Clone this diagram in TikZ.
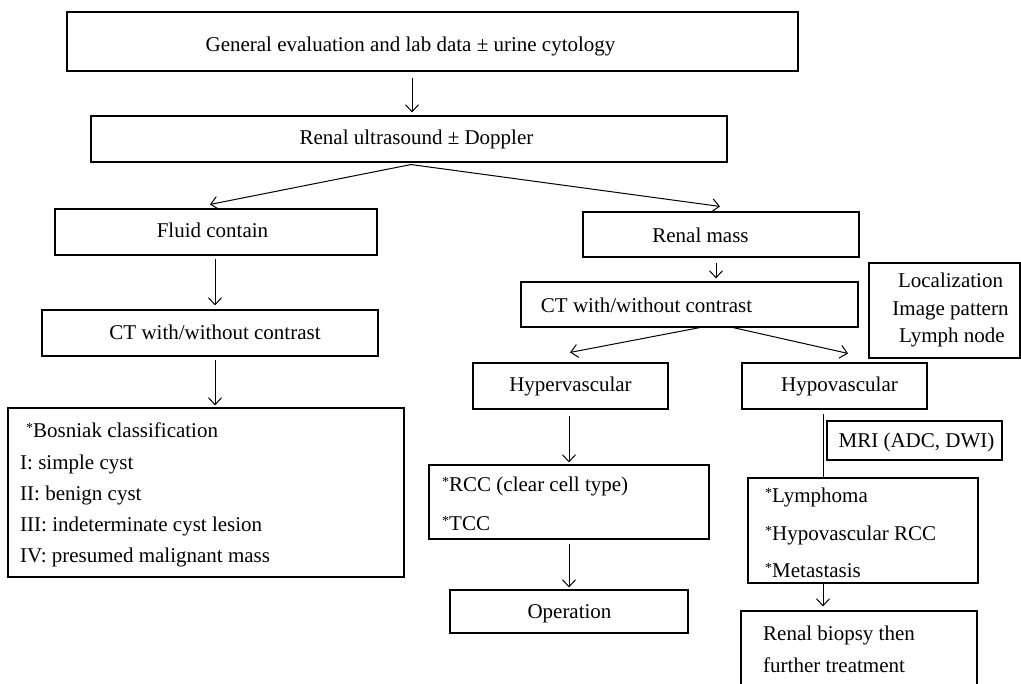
\documentclass[tikz,border=0pt]{standalone}
\usepackage{fontspec}
\setmainfont{Liberation Serif}
\usetikzlibrary{arrows.meta}
\newcommand{\sta}{\raisebox{5pt}{\fontsize{14}{14}\selectfont *}}
\begin{document}
\begin{tikzpicture}[x=1pt,y=-1pt,
  frame/.style={draw,line width=1.1pt,inner sep=0pt,minimum width=#1},
  txt/.style={inner sep=0pt,anchor=base,font=\fontsize{21}{25}\selectfont},
  ltxt/.style={inner sep=0pt,anchor=base west,font=\fontsize{21}{25}\selectfont},
  arr/.style={line width=1pt,-{Straight Barb[length=7pt,width=13pt]}},
  ln/.style={line width=1pt}]
\useasboundingbox (0,0) rectangle (1021,684);
% frames
\node[frame=731pt,minimum height=59pt] (f1) at (432.5,41.5) {};
\node[frame=636pt,minimum height=46pt] (f2) at (409,139) {};
\node[frame=322pt,minimum height=46pt] (f3) at (216,232) {};
\node[frame=336pt,minimum height=46pt] (f4) at (210,333) {};
\node[frame=396pt,minimum height=169pt] (f5) at (206,492.5) {};
\node[frame=276pt,minimum height=45pt] (f6) at (721,234.5) {};
\node[frame=337pt,minimum height=45pt] (f7) at (689.5,304.5) {};
\node[frame=151pt,minimum height=95pt] (f8) at (944.5,310.5) {};
\node[frame=195pt,minimum height=46pt] (f9) at (570.5,386) {};
\node[frame=185pt,minimum height=46pt] (f10) at (834.5,386) {};
\node[frame=175pt,minimum height=39pt] (f11) at (914.5,440.5) {};
\node[frame=280pt,minimum height=74pt] (f12) at (569,502) {};
\node[frame=238pt,minimum height=43pt] (f13) at (569,611.5) {};
\node[frame=230pt,minimum height=105pt] (f14) at (863,530.5) {};
\node[frame=236pt,minimum height=89pt] (f15) at (859,655.5) {};
% texts
\node[txt] (t1) at (410.5,52) {General evaluation and lab data ± urine cytology};
\node[txt] (t2) at (416.5,145) {Renal ultrasound ± Doppler};
\node[txt] (t3) at (212.5,238) {Fluid contain};
\node[txt] (t4) at (215,340) {CT with/without contrast};
\node[txt] (t5) at (700.5,243) {Renal mass};
\node[txt] (t6) at (646.5,313) {CT with/without contrast};
\node[txt] (t7a) at (950.5,288) {Localization};
\node[txt] (t7b) at (950.5,316) {Image pattern};
\node[txt] (t7c) at (952,343) {Lymph node};
\node[txt] (t8) at (570.5,392) {Hypervascular};
\node[txt] (t9) at (839.5,392) {Hypovascular};
\node[txt] (t10) at (916.5,448) {MRI (ADC, DWI)};
\node[ltxt] (t11a) at (442,492) {\sta RCC (clear cell type)};
\node[ltxt] (t11b) at (442,531) {\sta TCC};
\node[txt] (t12) at (569.5,618) {Operation};
\node[ltxt] (t13a) at (26,438) {\sta Bosniak classification};
\node[ltxt] (t13b) at (20,469.5) {I: simple cyst};
\node[ltxt] (t13c) at (20,500.5) {II: benign cyst};
\node[ltxt] (t13d) at (20,532) {III: indeterminate cyst lesion};
\node[ltxt] (t13e) at (20,563) {IV: presumed malignant mass};
\node[ltxt] (t14a) at (765,503) {\sta Lymphoma};
\node[ltxt] (t14b) at (765,540) {\sta Hypovascular RCC};
\node[ltxt] (t14c) at (765,577) {\sta Metastasis};
\node[ltxt] (t15a) at (763,640) {Renal biopsy then};
\node[ltxt] (t15b) at (763,672) {further treatment};
% connectors
\draw[arr] ([xshift=-20.5pt,yshift=-6pt]f1.south) -- ([xshift=3pt,yshift=3pt]f2.north);
\draw[arr] ([xshift=2pt,yshift=-2pt]f2.south) -- ([xshift=-6pt,yshift=4pt]f3.north);
\draw[arr] ([xshift=2pt,yshift=-2pt]f2.south) -- ([xshift=-1pt,yshift=5pt]f6.north);
\draw[arr] ([xshift=-1pt,yshift=-3pt]f3.south) -- ([xshift=5pt,yshift=4pt]f4.north);
\draw[arr] ([xshift=5pt,yshift=-3pt]f4.south) -- ([xshift=9pt,yshift=2pt]f5.north);
\draw[arr] ([xshift=-5pt,yshift=-5pt]f6.south) -- ([xshift=26.5pt,yshift=3pt]f7.north);
\draw[arr] ([xshift=10.5pt]f7.south) -- ([xshift=-0.5pt,yshift=10pt]f9.north);
\draw[arr] ([xshift=43.5pt]f7.south) -- ([xshift=13.5pt,yshift=9pt]f10.north);
\draw[arr] ([xshift=-1.5pt,yshift=-6pt]f9.south) -- ([yshift=2pt]f12.north);
\draw[arr] ([yshift=-4pt]f12.south) -- ([yshift=2pt]f13.north);
\draw[ln] ([xshift=-11pt,yshift=-4pt]f10.south) -- ([xshift=-39.5pt]f14.north);
\draw[arr] ([xshift=-40pt]f14.south) -- ([xshift=-36pt,yshift=4pt]f15.north);
\end{tikzpicture}
\end{document}
